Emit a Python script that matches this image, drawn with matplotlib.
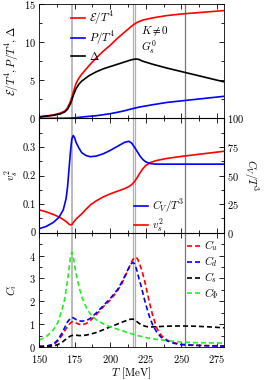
import matplotlib
matplotlib.use("Agg")
import matplotlib.pyplot as plt
from matplotlib.ticker import MultipleLocator

plt.rcParams['font.family'] = 'serif'
plt.rcParams['font.serif'] = ['cmr10']
plt.rcParams['mathtext.fontset'] = 'cm'
plt.rcParams['axes.formatter.use_mathtext'] = True
plt.rcParams['axes.unicode_minus'] = False
plt.rcParams['font.size'] = 8

# top panel: thermodynamics
T_top = [150, 160, 165, 168, 170, 172, 173, 174, 176, 178, 180, 185, 190, 195, 200,
         205, 210, 215, 218, 220, 223, 230, 240, 250, 260, 270, 280]
eps = [0.2, 0.45, 0.7, 0.95, 1.4, 2.2, 2.8, 3.4, 4.6, 5.3, 5.8, 6.9, 7.9, 8.8, 9.6,
       10.5, 11.3, 12.1, 12.5, 12.7, 12.9, 13.2, 13.5, 13.7, 13.85, 14.0, 14.15]
pres = [0.0, 0.01, 0.02, 0.03, 0.03, 0.04, 0.05, 0.06, 0.1, 0.14, 0.18, 0.27, 0.35, 0.48, 0.62,
        0.8, 1.0, 1.25, 1.38, 1.47, 1.57, 1.8, 2.1, 2.3, 2.5, 2.7, 2.9]
delta = [0.2, 0.4, 0.6, 0.85, 1.2, 1.9, 2.4, 3.0, 3.9, 4.5, 4.9, 5.6, 6.1, 6.5, 6.8,
         7.1, 7.4, 7.7, 7.8, 7.75, 7.5, 7.1, 6.6, 6.15, 5.7, 5.25, 4.8]

# middle panel: specific heat and speed of sound
T_mid = [150, 155, 160, 164, 167, 169, 170, 171, 172, 173, 174, 175, 176, 178, 180, 183,
         186, 190, 195, 200, 205, 210, 213, 215, 217, 219, 221, 223, 225, 228, 232, 240,
         250, 260, 270, 280]
cv = [3.5, 5.5, 9, 13.5, 20, 30, 40, 55, 70, 82, 85, 83, 79, 74, 70, 67.5,
      66.5, 67, 69, 72, 75.5, 79, 80, 78.5, 75, 71, 67, 64, 62, 60.5, 60, 60,
      60, 60, 60, 60]
vs2 = [0.080, 0.073, 0.064, 0.055, 0.046, 0.039, 0.035, 0.030, 0.027, 0.029, 0.035, 0.042,
       0.048, 0.057, 0.066, 0.082, 0.097, 0.111, 0.125, 0.136, 0.145, 0.154, 0.161, 0.168,
       0.178, 0.193, 0.210, 0.224, 0.235, 0.245, 0.252, 0.260, 0.267, 0.273, 0.279, 0.285]

# bottom panel: susceptibilities
T_bot = [150, 155, 160, 163, 166, 168, 170, 172, 173, 174, 176, 178, 180, 183, 186, 190,
         195, 200, 205, 208, 211, 213, 215, 216, 217, 218, 219, 220, 222, 224, 226, 228,
         230, 233, 236, 240, 245, 250, 260, 270, 280]
c_u = [0.02, 0.03, 0.1, 0.25, 0.5, 0.7, 0.9, 1.05, 1.1, 1.1, 1.05, 1.0, 0.98, 1.02, 1.15, 1.4,
       1.75, 2.05, 2.45, 2.75, 3.15, 3.45, 3.72, 3.83, 3.9, 3.93, 3.88, 3.75, 3.4, 2.95, 2.4, 1.85,
       1.35, 0.8, 0.5, 0.3, 0.18, 0.12, 0.08, 0.06, 0.05]
c_d = [0.02, 0.04, 0.12, 0.3, 0.6, 0.85, 1.1, 1.25, 1.3, 1.28, 1.2, 1.15, 1.13, 1.15, 1.25, 1.48,
       1.8, 2.12, 2.5, 2.82, 3.2, 3.45, 3.65, 3.7, 3.65, 3.5, 3.3, 3.05, 2.6, 2.1, 1.65, 1.25,
       0.95, 0.62, 0.42, 0.27, 0.16, 0.1, 0.07, 0.05, 0.04]
c_s = [0.02, 0.02, 0.05, 0.1, 0.2, 0.3, 0.4, 0.48, 0.5, 0.52, 0.52, 0.5, 0.5, 0.52, 0.56, 0.63,
       0.75, 0.88, 1.0, 1.08, 1.15, 1.2, 1.22, 1.22, 1.2, 1.15, 1.1, 1.05, 0.97, 0.92, 0.89, 0.88,
       0.88, 0.89, 0.9, 0.91, 0.92, 0.92, 0.91, 0.88, 0.84]
c_phi = [0.3, 0.45, 0.75, 1.05, 1.6, 2.1, 2.9, 3.9, 4.15, 3.95, 3.2, 2.65, 2.2, 1.75, 1.45, 1.2,
         1.02, 0.88, 0.78, 0.72, 0.66, 0.62, 0.58, 0.56, 0.55, 0.53, 0.51, 0.49, 0.46, 0.43, 0.40, 0.38,
         0.36, 0.33, 0.31, 0.28, 0.25, 0.22, 0.19, 0.18, 0.17]

# characteristic temperatures
T_light = [173.0, 215.8, 217.2]
T_dark = 252.7

fig = plt.figure(figsize=(2.66, 3.8), dpi=100)
L, W, H = 0.147, 0.695, 0.3008
ax1 = fig.add_axes([L, 0.0868 + 2 * H, W, H])
ax2 = fig.add_axes([L, 0.0868 + H, W, H])
ax3 = fig.add_axes([L, 0.0868, W, H])


def vlines(ax):
    ax.axvline(T_light[0], color='#bbbbbb', lw=1.4, zorder=0)
    ax.axvline(T_light[1], color='#b0b0b0', lw=0.9, zorder=0)
    ax.axvline(T_light[2], color='#b0b0b0', lw=0.9, zorder=0)
    ax.axvline(T_dark, color='#777777', lw=0.9, zorder=0)


for ax in (ax1, ax2, ax3):
    ax.set_xlim(150, 280)
    ax.xaxis.set_major_locator(MultipleLocator(25))
    ax.xaxis.set_minor_locator(MultipleLocator(12.5))
    ax.tick_params(which='both', direction='in', top=True, labelsize=7.5)
    ax.tick_params(which='major', length=3.5, width=0.6, pad=2.5)
    ax.tick_params(which='minor', length=2, width=0.6)
    for s in ax.spines.values():
        s.set_linewidth(0.6)
    vlines(ax)

lw = 1.2

# top
ax1.plot(T_top, eps, color='#ff0000', lw=lw, label=r'$\mathcal{E}/T^4$')
ax1.plot(T_top, pres, color='#0000ff', lw=lw, label=r'$P/T^4$')
ax1.plot(T_top, delta, color='black', lw=lw, label=r'$\Delta$')
ax1.set_ylim(0, 15)
ax1.set_yticks([0, 5, 10, 15])
ax1.yaxis.set_minor_locator(MultipleLocator(2.5))
ax1.tick_params(which='both', right=True, labelbottom=False)
ax1.set_ylabel(r'$\mathcal{E}/T^4, P/T^4, \Delta$', labelpad=2)
ax1.legend(loc='upper left', bbox_to_anchor=(0.175, 0.95), frameon=False,
           handlelength=1.2, handletextpad=0.4, labelspacing=0.2, borderaxespad=0,
           borderpad=0)
ax1.text(222, 11.4, r'$K \neq 0$', va='center')
ax1.text(222, 9.3, r'$G_s^0$', va='center')

# middle
ax2.plot(T_mid, vs2, color='#ff0000', lw=lw)
ax2.set_ylim(0, 0.4)
ax2.set_yticks([0, 0.1, 0.2, 0.3])
ax2.set_yticklabels(['0', '0.1', '0.2', '0.3'])
ax2.yaxis.set_minor_locator(MultipleLocator(0.05))
ax2.tick_params(which='both', labelbottom=False)
ax2.set_ylabel(r'$v_s^2$', labelpad=2)
ax2r = ax2.twinx()
ax2r.set_xlim(150, 280)
ax2r.plot(T_mid, cv, color='#0000ff', lw=lw)
ax2r.set_ylim(0, 100)
ax2r.set_yticks([0, 25, 50, 75, 100])
ax2r.yaxis.set_minor_locator(MultipleLocator(12.5))
ax2r.tick_params(which='both', direction='in', labelsize=7.5)
ax2r.tick_params(which='major', length=3.5, width=0.6, pad=2.5)
ax2r.tick_params(which='minor', length=2, width=0.6)
ax2r.set_ylabel(r'$C_V/T^3$', rotation=270, labelpad=11)
h_cv, = ax2.plot([], [], color='#0000ff', lw=lw, label=r'$C_V/T^3$')
h_vs, = ax2.plot([], [], color='#ff0000', lw=lw, label=r'$v_s^2$')
ax2.legend(handles=[h_cv, h_vs], loc='upper left', bbox_to_anchor=(0.515, 0.31),
           frameon=False, handlelength=1.2, handletextpad=0.4, labelspacing=0.15,
           borderaxespad=0, borderpad=0)

# bottom
dash = (3, 1.8)
ax3.plot(T_bot, c_u, color='#ff0000', lw=lw, dashes=dash, label=r'$C_u$')
ax3.plot(T_bot, c_d, color='#0000ff', lw=lw, dashes=dash, label=r'$C_d$')
ax3.plot(T_bot, c_s, color='black', lw=lw, dashes=dash, label=r'$C_s$')
ax3.plot(T_bot, c_phi, color='#22ee22', lw=lw, dashes=dash, label=r'$C_\Phi$')
ax3.set_ylim(0, 5)
ax3.set_yticks([0, 1, 2, 3, 4])
ax3.yaxis.set_minor_locator(MultipleLocator(0.5))
ax3.tick_params(which='both', right=True)
ax3.tick_params(axis='x', pad=4)
ax3.set_ylabel(r'$C_i$', labelpad=7)
ax3.set_xlabel(r'$T$ [MeV]', labelpad=1)
ax3.legend(loc='upper left', bbox_to_anchor=(0.80, 0.95), frameon=False,
           handlelength=1.2, handletextpad=0.3, labelspacing=0.1, borderaxespad=0,
           borderpad=0)

fig.savefig('out.png', dpi=100)
